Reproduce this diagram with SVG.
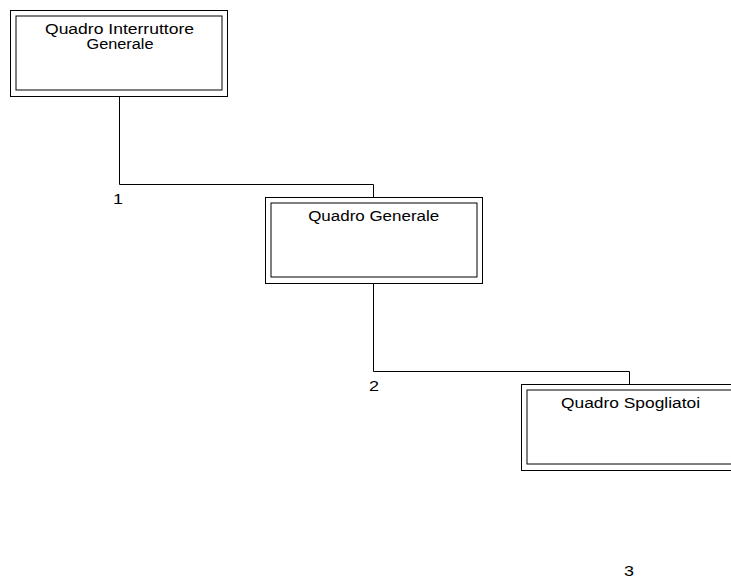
<svg xmlns="http://www.w3.org/2000/svg" width="731" height="578" viewBox="0 0 731 578">
<style>
.outer{fill:none;stroke:#000;stroke-width:1}
.inner{fill:none;stroke:#000;stroke-width:1}
.t{font-family:"Liberation Sans",Arial,sans-serif;font-size:14px;fill:#000;text-anchor:middle}
.n{font-family:"Liberation Sans",Arial,sans-serif;font-size:15px;fill:#000;text-anchor:middle}
.c{fill:none;stroke:#000;stroke-width:1}
</style>
<rect width="731" height="578" fill="#fff"/>
<g id="connectors">
<polyline class="c" points="119.5,97 119.5,184.5 373.5,184.5 373.5,197"/>
<polyline class="c" points="373.5,284 373.5,371.5 629.5,371.5 629.5,384"/>
</g>
<g id="labels">
<text class="n" x="118" y="204" textLength="10" lengthAdjust="spacingAndGlyphs">1</text>
<text class="n" x="374" y="391" textLength="10" lengthAdjust="spacingAndGlyphs">2</text>
<text class="n" x="629" y="576" textLength="10" lengthAdjust="spacingAndGlyphs">3</text>
</g>
<g id="node1">
<rect class="outer" x="10.5" y="10.5" width="217" height="86"/>
<rect class="inner" x="16" y="16" width="206" height="74"/>
<text class="t" x="119.5" y="34" textLength="149" lengthAdjust="spacingAndGlyphs">Quadro Interruttore</text>
<text class="t" x="120" y="48.5" textLength="67" lengthAdjust="spacingAndGlyphs">Generale</text>
</g>
<g id="node2">
<rect class="outer" x="265.5" y="197.5" width="217" height="86"/>
<rect class="inner" x="271" y="203" width="206" height="74"/>
<text class="t" x="373.7" y="221" textLength="131" lengthAdjust="spacingAndGlyphs">Quadro Generale</text>
</g>
<g id="node3">
<rect class="outer" x="521.5" y="384.5" width="217" height="86"/>
<rect class="inner" x="527" y="390" width="206" height="74"/>
<text class="t" x="630.5" y="408" textLength="139" lengthAdjust="spacingAndGlyphs">Quadro Spogliatoi</text>
</g>
</svg>
